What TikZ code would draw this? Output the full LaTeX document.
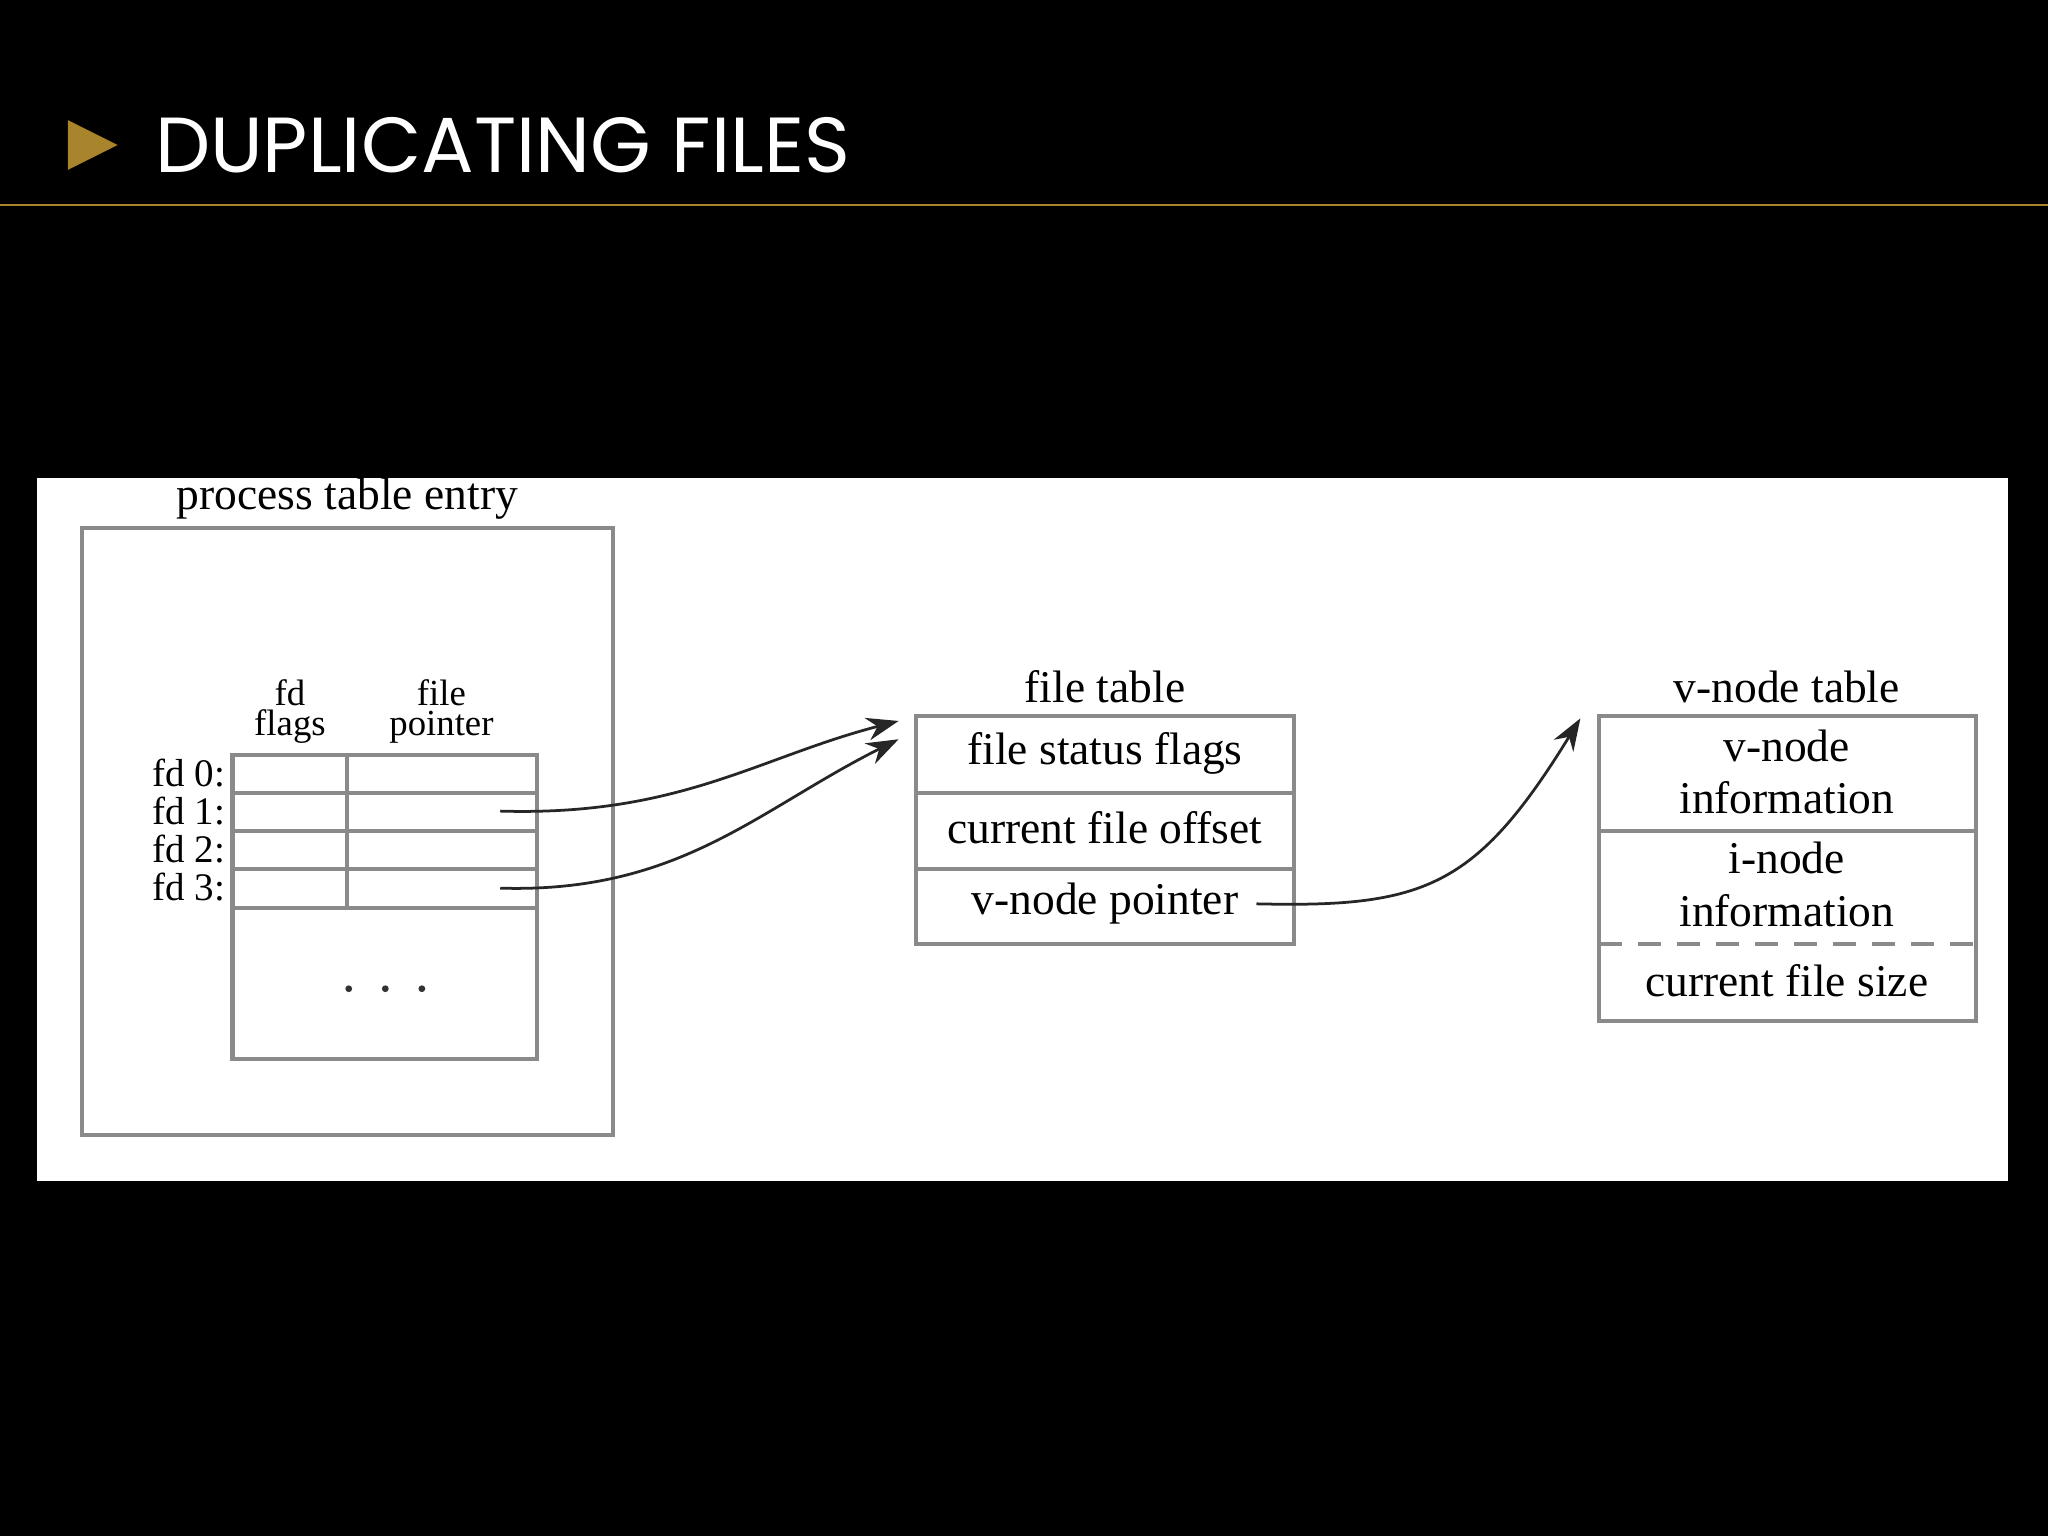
\documentclass[tikz,border=0pt]{standalone}
\usepackage{fontspec}
\setmainfont{Liberation Serif}
\newfontfamily\titlefont{Poppins}
\usetikzlibrary{arrows.meta}
\definecolor{gold}{HTML}{A8842C}
\definecolor{boxgray}{HTML}{8A8A8A}
\tikzset{
  frame/.style={draw=boxgray, line width=0.9pt},
  lbl/.style={font=\fontsize{9.9}{9.9}\selectfont, inner sep=0pt, align=center},
  small/.style={font=\fontsize{8.5}{8.5}\selectfont, inner sep=0pt, align=center},
  ptr/.style={draw=black!85, line width=0.6pt, -{Stealth[length=7pt,width=5pt]}},
}
\begin{document}
\begin{tikzpicture}[x=0.01cm,y=-0.01cm]
\useasboundingbox (0,0) rectangle (1568,1176);
\fill[black] (0,0) rectangle (1568,1176);
% title
\fill[gold] (52,92) -- (90,111) -- (52,130) -- cycle;
\node[anchor=west, text=white, font=\titlefont\fontsize{17}{17}\selectfont, inner sep=0pt] (title) at (118,111) {DUPLICATING FILES};
\draw[gold, line width=0.6pt] (0,157) -- (1568,157);
% white panel
\fill[white] (28,366) rectangle (1537,904);
% process table
\draw[frame] (63,404) rectangle (469,869);
\node[lbl] (ptl) at (266,382) {process table entry};
\draw[frame] (178,578) rectangle (411,811);
\foreach \y in {607,636,665,695} \draw[frame] (178,\y) -- (411,\y);
\draw[frame] (266,578) -- (266,695);
\node[small, font=\fontsize{8}{6.5}\selectfont] (hfd) at (222,545) {fd\\flags};
\node[small, font=\fontsize{8}{6.5}\selectfont] (hfp) at (338,545) {file\\pointer};
\node[small, anchor=east] (fd0) at (173,592) {fd 0:};
\node[small, anchor=east] (fd1) at (173,621) {fd 1:};
\node[small, anchor=east] (fd2) at (173,650) {fd 2:};
\node[small, anchor=east] (fd3) at (173,679) {fd 3:};
\foreach \x in {267,295,323} \fill[black!80] (\x,757) circle (2.6);
\coordinate (p1) at (383,621);
\coordinate (p3) at (383,680);
% file table
\node[lbl] (ftl) at (846,526) {file table};
\draw[frame] (701,548) rectangle (991,723);
\draw[frame] (701,607) -- (991,607);
\draw[frame] (701,665) -- (991,665);
\node[lbl] (fsf) at (846,577) {file status flags};
\node[lbl] (cfo) at (846,634) {current file offset};
\node[lbl] (vnp) at (846,692) {v-node pointer};
\coordinate (ft1) at (688,552);
\coordinate (ft2) at (688,566);
\coordinate (vp) at (962,692);
% v-node table
\node[lbl] (vtl) at (1368,526) {v-node table};
\draw[frame] (1224,548) rectangle (1513,782);
\draw[frame] (1224,636) -- (1513,636);
\draw[frame, dash pattern=on 5pt off 3.5pt] (1224,723) -- (1513,723);
\node[lbl, font=\fontsize{9.9}{11.5}\selectfont] (vni) at (1368,591) {v-node\\information};
\node[lbl, font=\fontsize{9.9}{11.5}\selectfont] (ini) at (1368,677) {i-node\\information};
\node[lbl] (cfs) at (1368,751) {current file size};
\coordinate (vt) at (1210,550);
% pointers
\draw[ptr] (p1) .. controls (520,625) and (580,580) .. (ft1);
\draw[ptr] (p3) .. controls (520,684) and (580,620) .. (ft2);
\draw[ptr] (vp) .. controls (1090,695) and (1130,680) .. (vt);
\end{tikzpicture}
\end{document}
